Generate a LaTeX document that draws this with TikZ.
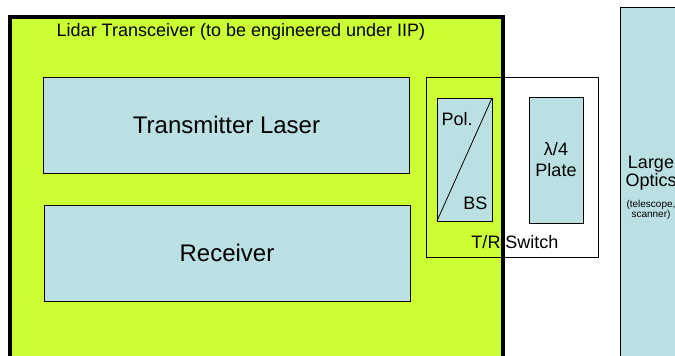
\documentclass[tikz,border=0pt]{standalone}
\usepackage{fontspec}
\setmainfont{Liberation Sans}
\usetikzlibrary{positioning}
\definecolor{housinggreen}{HTML}{CCFF33}
\definecolor{opticblue}{HTML}{BBE0E3}

\begin{document}
\begin{tikzpicture}[
  x=1pt, y=-1pt,
  every node/.style={font=\fontsize{18}{21}\selectfont, inner sep=0pt, outer sep=0pt},
  housing/.style={rectangle, draw, line width=4pt, fill=housinggreen},
  block/.style={rectangle, draw, line width=0.8pt, fill=opticblue},
  switchbox/.style={rectangle, draw, line width=1pt},
  biglabel/.style={font=\fontsize{24}{28}\selectfont},
  smalllabel/.style={font=\fontsize{10}{11}\selectfont},
]
  \clip (0,0) rectangle (675,356);

  % Lidar transceiver housing
  \node[housing, anchor=north west, minimum width=492.5pt, minimum height=380pt]
    (lidar) at (10,17) {};
  \node[anchor=base] (lidartitle) at (241,36.5)
    {Lidar Transceiver (to be engineered under IIP)};

  % Laser and receiver
  \node[block, biglabel, minimum width=366pt, minimum height=96pt]
    (laser) at (226.5,125) {Transmitter Laser};
  \node[block, biglabel, minimum width=366pt, minimum height=96pt]
    (receiver) at (227,253) {Receiver};

  % Polarising beam splitter
  \node[block, minimum width=55pt, minimum height=123pt] (polbs) at (464.5,159.5) {};
  \draw[line width=0.8pt] (polbs.south west) -- (polbs.north east);
  \node[anchor=base west] (pol) at (441.5,125) {Pol.};
  \node[anchor=base east] (bs) at (487.5,209) {BS};

  % Quarter-wave plate
  \node[block, align=center, minimum width=54pt, minimum height=126pt]
    (qwp) at (556,160) {λ/4\\Plate};

  % T/R switch
  \node[switchbox, minimum width=172pt, minimum height=180pt] (trswitch) at (512,167) {};
  \node[anchor=base] (trlabel) at (515,248) {T/R Switch};

  % Large optics
  \node[block, anchor=north west, minimum width=62pt, minimum height=360pt]
    (optics) at (620,7) {};
  \node[anchor=base] (large) at (651,168) {Large};
  \node[anchor=base] (opticslbl) at (651,186) {Optics};
  \node[smalllabel, anchor=base] (telescope) at (651,207) {(telescope,};
  \node[smalllabel, anchor=base] (scanner) at (651,217.5) {scanner)};
\end{tikzpicture}
\end{document}
